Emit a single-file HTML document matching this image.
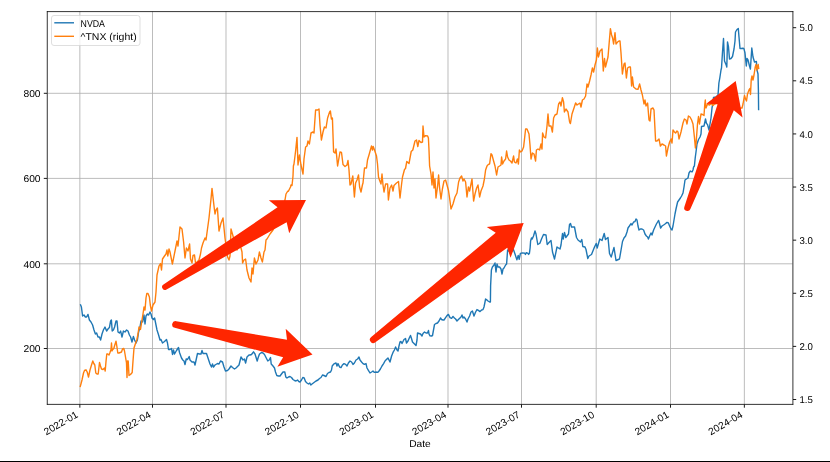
<!DOCTYPE html>
<html><head><meta charset="utf-8"><style>html,body{margin:0;padding:0;background:#fff;width:830px;height:462px;overflow:hidden}</style></head>
<body>
<svg width="830" height="462" viewBox="0 0 830 462" style="display:block">
<rect width="830" height="462" fill="#fff"/>
<path d="M79.85 11.5V404.5M152.50 11.5V404.5M226.00 11.5V404.5M300.50 11.5V404.5M375.50 11.5V404.5M448.00 11.5V404.5M521.50 11.5V404.5M596.20 11.5V404.5M670.50 11.5V404.5M744.35 11.5V404.5M47.5 93.30H792.5M47.5 178.40H792.5M47.5 263.80H792.5M47.5 348.50H792.5" stroke="#b0b0b0" stroke-width="0.85" fill="none"/>
<path d="M80.6 305.0 81.4 307.0 82.6 316.0 84.0 315.0 85.4 317.0 86.6 317.0 88.0 314.4 89.4 320.0 91.0 322.0 92.6 325.0 94.0 330.0 95.4 334.0 96.6 333.0 98.0 337.0 99.4 337.0 100.6 340.0 102.0 334.0 103.4 330.0 105.0 327.0 106.6 331.0 108.0 329.0 109.4 327.6 110.6 321.0 111.4 320.0 112.2 331.0 113.4 330.0 114.6 327.0 116.0 321.0 117.0 321.0 118.0 332.0 119.4 333.0 120.6 331.0 122.0 337.0 123.4 331.0 125.0 332.0 126.6 330.0 128.0 331.0 129.4 335.0 130.6 337.0 132.0 342.0 133.4 336.4 134.6 340.0 136.0 343.0 137.4 340.0 138.6 332.0 140.0 327.0 141.0 321.0 142.6 322.0 144.0 315.0 145.0 324.0 146.0 316.0 147.4 314.0 148.6 315.0 150.0 312.0 151.0 314.0 152.0 318.0 153.4 319.6 154.6 318.0 156.0 325.0 157.0 330.0 158.6 335.0 160.0 340.0 161.0 339.5 162.5 343.0 164.5 341.5 166.5 339.5 167.5 343.0 168.5 349.5 170.0 349.5 171.5 348.5 172.5 354.5 173.5 350.0 174.5 354.0 176.5 350.5 178.5 347.5 179.5 352.5 181.5 358.0 182.8 360.0 184.0 361.0 185.0 364.5 186.2 359.0 187.5 359.5 189.2 356.5 190.0 360.0 192.0 362.0 194.0 362.0 195.0 365.0 197.5 353.5 199.5 354.0 201.0 354.0 202.0 350.5 203.0 353.5 204.5 353.5 206.5 353.5 208.0 358.0 210.0 364.0 211.5 367.0 212.5 364.0 213.5 367.0 215.0 365.0 217.5 363.5 219.0 364.0 220.5 361.0 222.5 362.0 224.0 367.0 225.5 371.0 227.5 370.5 229.0 369.0 231.0 366.0 232.5 367.5 234.5 369.0 236.0 368.0 239.0 365.0 241.0 357.0 243.0 360.0 244.4 359.0 245.6 363.0 247.0 357.0 249.0 355.0 250.0 355.0 251.5 354.5 253.5 351.8 255.0 354.0 257.2 361.0 258.2 357.5 259.5 354.0 261.5 352.5 263.0 353.0 264.5 354.5 266.0 357.5 267.8 361.0 269.2 360.0 270.5 357.5 271.2 364.0 273.0 366.0 274.5 368.0 275.5 372.0 276.8 375.5 278.5 376.0 280.0 376.0 281.5 374.0 283.0 372.0 284.8 372.0 285.8 377.0 287.0 378.0 288.5 377.0 290.0 376.5 291.5 377.5 293.0 379.5 294.5 380.5 296.0 381.0 297.5 380.0 298.8 381.5 300.0 382.0 301.5 380.0 302.8 377.5 304.2 378.0 305.5 381.5 307.0 383.0 308.5 384.0 309.8 383.0 310.8 385.0 312.0 384.0 314.0 382.5 316.0 381.0 318.0 380.0 319.5 378.5 321.0 377.5 322.5 375.0 324.0 375.5 326.0 376.5 327.5 373.5 329.0 372.5 330.5 372.0 331.5 370.0 332.2 366.0 333.0 365.0 334.4 363.6 336.0 363.0 337.0 366.0 338.0 363.6 339.6 367.0 341.0 367.6 342.4 365.0 344.0 363.6 345.6 364.4 347.0 366.0 348.4 363.0 350.0 361.0 351.6 362.0 353.0 364.4 354.4 363.0 356.0 360.0 357.6 359.0 359.0 357.0 360.0 360.0 361.6 362.0 363.0 363.6 364.4 364.4 366.0 363.6 367.0 368.0 368.4 370.4 370.0 373.0 371.6 372.0 373.0 371.0 374.4 372.4 376.0 372.0 377.6 372.4 379.0 371.0 380.4 369.0 382.0 366.0 383.6 363.6 385.0 361.0 386.4 359.6 388.0 358.0 389.0 360.0 390.0 362.0 391.6 356.0 393.0 352.4 394.4 350.0 395.6 347.0 397.0 350.0 398.0 351.0 399.0 346.0 400.0 342.0 401.0 341.5 402.0 343.5 404.0 339.5 405.5 338.5 406.5 343.0 408.0 341.0 409.5 337.5 410.5 335.5 411.5 338.5 412.5 342.0 414.5 344.0 416.0 345.5 417.0 340.0 417.5 333.0 419.0 333.5 420.5 334.0 422.0 336.0 423.0 333.5 424.5 332.0 426.0 333.0 427.5 333.0 428.5 330.5 429.0 334.0 430.0 335.8 431.5 336.0 432.5 335.5 433.5 330.0 434.5 324.5 436.0 323.5 437.5 323.0 439.0 321.0 440.5 318.0 441.5 319.5 443.0 320.0 444.0 320.0 445.6 317.6 447.0 315.6 448.4 314.4 450.0 317.6 451.6 318.4 453.0 316.4 454.4 318.0 455.6 319.0 457.0 321.0 458.4 319.6 460.0 318.0 461.0 317.0 462.0 315.0 463.0 318.0 464.0 317.0 465.6 319.0 467.0 322.0 468.0 319.0 469.6 316.0 471.0 312.0 472.4 311.0 474.0 316.0 475.6 312.0 477.0 309.6 478.4 310.4 480.0 311.6 481.6 310.0 483.0 309.6 484.0 307.0 485.6 299.0 487.0 300.0 488.0 301.0 489.6 302.0 490.4 302.0 490.6 286.0 491.4 270.0 492.4 267.0 494.0 265.0 495.0 263.0 496.0 272.0 497.0 264.0 498.0 267.0 499.6 267.0 501.0 269.0 502.0 274.0 503.0 269.0 504.0 268.0 505.6 265.0 506.6 264.0 507.6 250.0 510.0 252.0 512.0 251.0 513.4 249.4 515.0 254.0 516.9 259.9 518.2 255.4 519.2 259.4 520.4 253.4 522.4 252.9 524.9 253.2 525.4 254.4 526.4 252.7 527.9 253.4 528.6 254.4 529.4 253.4 530.1 248.0 530.6 241.0 531.5 238.0 532.2 239.0 533.5 236.0 535.0 231.0 536.0 234.0 537.0 240.0 537.8 244.5 539.5 243.5 540.0 243.0 541.5 239.0 543.5 234.5 546.0 235.0 547.2 244.5 549.0 242.5 551.0 240.5 552.5 252.0 554.5 259.0 557.0 247.0 560.0 249.0 561.0 245.0 562.5 233.5 563.2 239.0 564.5 232.5 565.8 237.5 568.5 234.0 569.5 224.5 570.5 223.5 571.5 227.0 574.5 227.0 576.5 237.5 578.0 240.0 580.5 242.0 581.8 239.5 582.8 246.5 585.0 247.0 586.0 249.5 587.8 258.5 589.0 256.0 591.5 254.5 594.5 247.0 596.2 243.5 597.2 248.0 599.8 239.0 602.0 240.5 604.2 233.5 605.5 239.5 608.0 237.5 609.5 253.5 611.2 257.0 614.0 247.5 616.0 260.5 619.5 259.0 622.5 241.5 624.0 238.0 625.6 236.0 627.0 232.0 628.0 228.0 629.4 226.0 631.0 223.6 632.0 225.0 633.6 222.0 635.0 221.6 636.0 219.0 637.0 220.0 638.0 226.0 639.0 230.0 640.4 229.0 642.0 229.0 643.6 230.0 645.0 234.0 646.4 236.0 647.6 237.0 648.4 239.0 649.6 236.0 651.0 233.0 652.0 235.0 653.6 230.0 655.0 227.0 656.4 224.0 657.6 222.0 658.6 220.4 659.6 224.0 660.6 228.0 662.0 226.0 663.6 225.0 665.0 224.0 667.0 222.4 668.4 223.0 669.6 226.0 671.0 229.0 672.0 230.0 673.0 226.0 674.0 220.0 675.0 214.0 676.0 209.0 677.6 202.0 679.0 200.0 680.4 198.0 681.6 196.0 683.0 193.0 684.0 187.0 685.0 180.0 686.4 179.0 688.0 178.0 689.0 173.0 690.4 171.0 692.0 172.0 693.0 170.0 693.6 167.0 694.4 166.0 695.2 158.0 696.0 152.0 697.0 144.0 698.5 139.5 700.0 137.0 701.0 134.0 701.5 126.5 704.0 126.0 705.5 119.0 706.5 123.5 707.5 124.5 709.0 130.0 711.0 118.0 712.0 108.0 712.8 104.0 713.5 97.5 716.0 97.0 718.0 95.0 718.4 90.0 718.9 83.0 719.8 78.0 721.0 70.0 721.5 68.0 722.5 52.0 723.5 38.5 724.5 61.0 726.2 65.0 726.8 67.0 727.5 42.0 728.5 47.0 729.5 59.0 731.0 58.5 732.5 56.5 734.0 49.0 735.0 41.0 735.5 32.0 737.0 29.5 738.3 28.5 739.0 37.0 740.0 48.5 741.5 48.5 743.0 48.2 744.0 48.8 745.0 53.0 746.3 66.0 747.0 58.5 748.0 60.0 749.5 66.0 750.4 69.0 751.8 48.0 753.0 57.0 754.5 62.0 756.4 61.5 757.0 70.0 758.0 74.0 758.4 90.0 758.6 109.5" stroke="#1f77b4" stroke-width="1.4" fill="none" stroke-linejoin="round" stroke-linecap="square"/>
<path d="M80.3 386.5 82.0 380.0 83.5 373.0 84.5 370.5 86.0 369.8 87.2 372.0 88.5 377.0 90.0 370.0 91.5 365.0 92.8 361.0 93.8 363.5 94.8 365.0 95.8 373.0 97.0 374.0 98.2 374.0 99.5 362.5 100.5 366.0 101.5 369.0 103.0 369.5 104.5 368.0 105.2 371.0 106.0 361.5 106.8 354.0 107.8 354.0 109.0 355.0 109.8 353.0 110.5 351.0 111.0 349.5 111.5 343.0 112.0 351.0 112.8 349.5 113.8 348.5 114.8 345.0 116.0 341.2 116.8 346.0 117.8 353.0 119.0 353.0 120.2 352.5 121.5 352.0 122.5 349.0 123.8 348.5 124.5 351.0 125.5 357.0 126.5 363.0 127.0 377.5 127.5 361.0 128.2 361.0 129.0 375.5 130.5 374.5 132.2 372.5 133.0 361.0 134.0 348.0 135.0 345.0 136.0 342.0 136.8 340.0 138.0 334.0 139.0 327.0 140.5 329.5 142.0 320.0 143.0 314.0 144.0 307.0 145.0 310.0 146.0 298.0 146.8 293.5 148.0 293.5 149.4 297.0 150.3 305.0 151.5 311.0 153.0 305.0 155.0 302.0 156.0 292.0 157.0 275.0 159.0 266.0 160.5 263.5 161.5 270.0 162.5 259.0 164.5 256.0 166.0 254.0 167.0 250.0 167.8 256.0 169.0 249.0 170.0 252.0 172.4 264.0 175.0 251.0 177.0 241.0 178.0 246.0 180.0 227.0 182.0 229.0 183.6 242.0 185.0 258.0 186.4 248.0 188.0 251.0 189.6 244.0 190.5 259.0 192.0 263.0 193.0 255.5 194.5 255.0 195.5 263.0 197.0 262.0 199.0 260.0 200.5 254.0 201.5 248.0 203.0 243.0 205.0 238.0 206.0 240.0 209.0 218.0 211.0 199.0 212.0 188.4 214.0 206.0 215.0 214.0 216.0 210.0 217.4 208.0 219.0 231.0 221.0 223.0 223.0 218.0 225.0 238.0 226.4 248.0 227.6 257.0 229.0 260.0 230.0 256.0 231.0 229.0 233.0 236.0 235.0 244.0 237.0 250.0 239.0 246.0 241.0 248.0 242.0 252.0 242.6 263.0 244.0 260.0 245.6 259.0 247.0 270.0 249.0 278.0 251.0 282.0 252.0 268.0 253.0 274.0 254.4 258.0 256.0 264.0 258.0 260.0 259.4 252.0 261.0 258.0 262.4 262.0 264.0 252.0 265.0 250.0 266.0 240.0 267.0 239.0 270.0 234.0 273.0 230.0 277.0 222.0 281.0 213.0 285.0 200.0 286.0 194.0 287.5 191.5 288.5 191.0 290.5 187.0 291.0 185.0 292.0 185.5 292.5 181.0 293.0 176.0 293.4 166.0 294.0 164.0 295.6 151.0 297.0 137.4 298.0 165.0 299.4 155.0 301.0 165.0 303.0 174.0 304.0 159.0 305.6 147.0 307.0 146.0 308.0 141.0 309.4 144.0 311.0 133.0 313.0 132.0 314.0 133.0 315.6 110.0 317.6 110.0 319.0 109.0 320.0 125.0 321.4 140.0 323.0 132.0 324.4 127.0 326.0 128.0 327.6 118.0 329.6 112.0 330.4 111.0 331.4 119.0 332.4 118.0 333.6 152.0 335.0 153.0 336.0 149.0 337.6 166.0 340.0 152.0 341.5 152.5 343.0 164.5 345.0 166.5 347.0 165.0 348.0 160.5 349.0 170.0 350.0 185.0 351.0 184.0 352.8 176.0 354.4 197.0 355.6 183.0 357.0 180.0 358.5 175.0 359.6 187.0 361.0 192.0 362.4 185.0 363.0 183.0 364.5 168.0 366.5 168.0 367.5 160.0 369.0 155.0 371.5 146.0 372.5 150.0 373.2 146.5 374.5 150.0 376.5 156.0 377.5 164.0 378.5 177.0 379.5 180.0 381.0 184.0 382.0 174.0 383.0 185.0 384.0 192.0 385.6 184.0 387.6 184.0 388.4 200.0 390.0 188.0 391.6 185.0 393.0 191.0 394.0 185.5 396.5 183.0 398.5 181.5 400.0 198.0 401.6 184.0 402.5 177.0 404.5 169.5 405.5 168.5 406.8 161.5 409.0 163.5 411.2 151.5 412.8 150.0 415.0 141.0 416.5 140.0 417.8 146.5 419.0 140.5 421.0 142.5 422.5 142.0 423.0 126.0 424.0 137.0 425.6 135.6 427.6 136.0 428.4 138.0 429.0 150.0 429.6 166.0 431.0 174.0 432.0 185.0 433.0 172.0 434.0 188.0 435.0 179.0 436.0 198.0 437.6 186.0 438.6 175.0 439.6 188.0 441.0 199.0 442.4 189.0 444.0 181.0 445.6 180.0 447.0 185.0 448.4 190.0 449.6 198.0 451.0 209.0 453.0 204.0 455.0 197.0 457.0 193.0 458.6 182.0 460.0 178.0 461.6 176.0 463.0 181.0 464.0 179.0 465.6 182.0 467.0 197.0 468.4 187.0 469.6 191.0 471.0 184.0 472.0 179.0 473.6 201.0 475.0 194.0 476.6 188.0 478.0 185.0 479.6 197.0 481.0 191.0 483.0 186.0 484.4 179.0 485.6 170.0 487.0 166.0 488.4 164.4 489.6 164.0 491.0 153.6 492.0 155.0 493.6 161.0 495.0 166.0 496.6 175.0 498.0 167.0 499.6 166.0 501.0 165.0 501.6 157.0 502.6 164.0 504.0 161.0 505.6 159.0 506.6 151.0 507.6 157.0 509.0 160.0 510.4 161.0 512.0 163.0 513.6 156.0 514.4 162.0 516.0 163.0 517.4 159.0 518.4 164.0 519.4 150.0 520.6 152.0 522.0 151.0 523.6 147.0 524.4 140.0 525.6 129.0 527.0 129.0 529.0 134.0 530.0 145.0 531.0 159.0 532.4 153.0 534.0 154.0 535.6 161.0 536.4 150.0 538.0 149.0 539.6 150.0 541.0 144.0 542.0 149.0 542.6 133.0 544.0 137.0 545.6 138.0 547.0 126.0 548.0 114.0 549.0 126.0 551.0 126.0 552.4 132.0 553.6 118.0 555.0 115.0 557.0 114.0 558.6 104.0 560.0 102.0 561.0 106.0 562.4 97.6 563.6 102.0 564.4 112.0 566.0 109.0 568.0 112.0 569.6 122.0 570.4 123.6 572.0 114.0 574.0 108.0 575.6 103.0 577.0 105.0 578.4 104.0 580.0 103.0 581.0 107.0 582.4 100.0 584.0 99.0 585.6 96.0 587.0 84.0 588.0 87.0 589.6 81.0 591.0 75.0 592.4 68.0 593.6 72.0 595.0 65.0 596.4 60.0 597.4 48.0 598.4 57.0 600.0 51.0 602.0 49.0 603.3 71.0 604.5 58.5 605.5 67.0 607.0 61.0 608.0 57.0 609.0 45.0 610.4 28.6 611.6 35.0 612.6 38.0 613.6 44.0 615.0 32.6 616.0 44.0 617.6 42.0 619.0 41.0 620.0 41.0 621.0 53.0 622.4 74.0 624.0 64.0 625.0 63.0 626.4 78.0 627.6 68.0 629.0 67.0 630.4 67.0 631.6 86.0 632.4 77.0 633.6 87.0 636.0 89.0 638.0 89.4 639.6 84.0 641.0 90.0 642.4 95.0 644.0 104.0 645.0 100.0 646.0 106.0 647.6 103.0 649.0 120.0 650.0 121.0 651.0 109.0 653.0 108.0 654.0 110.0 655.6 141.0 657.0 141.0 659.0 139.0 660.4 146.0 662.0 144.0 664.0 145.0 665.6 146.0 666.4 156.0 668.0 148.0 669.6 142.0 671.0 139.0 672.0 143.0 673.0 130.0 674.4 132.0 675.6 133.0 677.0 131.0 678.0 132.0 679.0 139.0 681.0 132.0 683.0 123.0 684.4 119.0 686.0 120.0 687.0 124.0 688.4 116.0 690.0 117.0 691.6 120.0 693.0 124.0 694.4 137.0 695.4 148.0 696.0 144.0 697.5 124.0 698.5 116.5 699.5 124.0 701.0 114.0 702.5 114.5 704.0 115.5 704.8 104.0 705.3 100.0 705.6 104.5 706.0 108.0 707.5 104.0 709.5 105.0 711.5 103.5 713.0 105.5 714.5 104.0 717.0 103.0 719.0 104.0 723.0 108.0 727.0 106.0 731.0 104.0 735.0 107.0 739.0 109.0 741.0 108.0 742.0 108.0 743.0 104.0 744.5 95.5 745.5 99.0 746.5 101.0 747.5 94.0 749.0 90.0 750.0 88.5 750.5 94.5 751.2 80.0 752.0 76.0 753.0 80.0 754.0 75.0 755.2 67.1 756.0 64.5 756.8 70.0 757.6 66.0 758.2 64.5 758.7 68.5" stroke="#ff7f0e" stroke-width="1.4" fill="none" stroke-linejoin="round" stroke-linecap="square"/>
<rect x="51.5" y="15.5" width="88.5" height="30" rx="2.5" fill="#fff" fill-opacity="0.8" stroke="#d4d4d4" stroke-width="0.75"/>
<path d="M54.3 22.8H74" stroke="#1f77b4" stroke-width="1.4"/>
<path d="M54.3 36.3H74" stroke="#ff7f0e" stroke-width="1.4"/>
<g style="filter:grayscale(1)">
<text x="80.60" y="26.90" text-anchor="start" textLength="24.37" lengthAdjust="spacingAndGlyphs" style="font-family:'Liberation Sans',sans-serif;text-rendering:geometricPrecision;font-size:9.9px" fill="#000" >NVDA</text>
<text x="80.50" y="40.40" text-anchor="start" textLength="56.17" lengthAdjust="spacingAndGlyphs" style="font-family:'Liberation Sans',sans-serif;text-rendering:geometricPrecision;font-size:9.9px" fill="#000" >^TNX (right)</text>
<path d="M47.27 11.2V404.7M792.9 11.2V404.7M46.87 11.6H793.3M46.87 404.38H793.3" stroke="#000" stroke-width="0.8" fill="none"/>
<path d="M79.85 404.5v3.2M152.50 404.5v3.2M226.00 404.5v3.2M300.50 404.5v3.2M375.50 404.5v3.2M448.00 404.5v3.2M521.50 404.5v3.2M596.20 404.5v3.2M670.50 404.5v3.2M744.35 404.5v3.2M47 93.30h-3.2M47 178.40h-3.2M47 263.80h-3.2M47 348.50h-3.2M793 399.50h3.2M793 346.38h3.2M793 293.27h3.2M793 240.16h3.2M793 187.04h3.2M793 133.93h3.2M793 80.81h3.2M793 27.69h3.2" stroke="#000" stroke-width="0.9" fill="none"/>
<text x="40.60" y="352.15" text-anchor="end" textLength="17.17" lengthAdjust="spacingAndGlyphs" style="font-family:'Liberation Sans',sans-serif;text-rendering:geometricPrecision;font-size:9.9px" fill="#000" >200</text>
<text x="40.60" y="267.72" text-anchor="end" textLength="17.17" lengthAdjust="spacingAndGlyphs" style="font-family:'Liberation Sans',sans-serif;text-rendering:geometricPrecision;font-size:9.9px" fill="#000" >400</text>
<text x="40.60" y="182.08" text-anchor="end" textLength="17.17" lengthAdjust="spacingAndGlyphs" style="font-family:'Liberation Sans',sans-serif;text-rendering:geometricPrecision;font-size:9.9px" fill="#000" >600</text>
<text x="40.60" y="97.05" text-anchor="end" textLength="17.17" lengthAdjust="spacingAndGlyphs" style="font-family:'Liberation Sans',sans-serif;text-rendering:geometricPrecision;font-size:9.9px" fill="#000" >800</text>
<text x="799.40" y="403.15" text-anchor="start" textLength="13.40" lengthAdjust="spacingAndGlyphs" style="font-family:'Liberation Sans',sans-serif;text-rendering:geometricPrecision;font-size:9.9px" fill="#000" >1.5</text>
<text x="799.40" y="350.03" text-anchor="start" textLength="13.40" lengthAdjust="spacingAndGlyphs" style="font-family:'Liberation Sans',sans-serif;text-rendering:geometricPrecision;font-size:9.9px" fill="#000" >2.0</text>
<text x="799.40" y="296.92" text-anchor="start" textLength="13.40" lengthAdjust="spacingAndGlyphs" style="font-family:'Liberation Sans',sans-serif;text-rendering:geometricPrecision;font-size:9.9px" fill="#000" >2.5</text>
<text x="799.40" y="243.81" text-anchor="start" textLength="13.40" lengthAdjust="spacingAndGlyphs" style="font-family:'Liberation Sans',sans-serif;text-rendering:geometricPrecision;font-size:9.9px" fill="#000" >3.0</text>
<text x="799.40" y="190.69" text-anchor="start" textLength="13.40" lengthAdjust="spacingAndGlyphs" style="font-family:'Liberation Sans',sans-serif;text-rendering:geometricPrecision;font-size:9.9px" fill="#000" >3.5</text>
<text x="799.40" y="137.58" text-anchor="start" textLength="13.40" lengthAdjust="spacingAndGlyphs" style="font-family:'Liberation Sans',sans-serif;text-rendering:geometricPrecision;font-size:9.9px" fill="#000" >4.0</text>
<text x="799.40" y="84.46" text-anchor="start" textLength="13.40" lengthAdjust="spacingAndGlyphs" style="font-family:'Liberation Sans',sans-serif;text-rendering:geometricPrecision;font-size:9.9px" fill="#000" >4.5</text>
<text x="799.40" y="31.34" text-anchor="start" textLength="13.40" lengthAdjust="spacingAndGlyphs" style="font-family:'Liberation Sans',sans-serif;text-rendering:geometricPrecision;font-size:9.9px" fill="#000" >5.0</text>
<text x="78.80" y="416.60" text-anchor="end" textLength="37.59" lengthAdjust="spacingAndGlyphs" style="font-family:'Liberation Sans',sans-serif;text-rendering:geometricPrecision;font-size:9.9px" fill="#000" transform="rotate(-30 78.80 416.60)">2022-01</text>
<text x="151.66" y="416.60" text-anchor="end" textLength="37.59" lengthAdjust="spacingAndGlyphs" style="font-family:'Liberation Sans',sans-serif;text-rendering:geometricPrecision;font-size:9.9px" fill="#000" transform="rotate(-30 151.66 416.60)">2022-04</text>
<text x="225.32" y="416.60" text-anchor="end" textLength="37.59" lengthAdjust="spacingAndGlyphs" style="font-family:'Liberation Sans',sans-serif;text-rendering:geometricPrecision;font-size:9.9px" fill="#000" transform="rotate(-30 225.32 416.60)">2022-07</text>
<text x="299.79" y="416.60" text-anchor="end" textLength="37.59" lengthAdjust="spacingAndGlyphs" style="font-family:'Liberation Sans',sans-serif;text-rendering:geometricPrecision;font-size:9.9px" fill="#000" transform="rotate(-30 299.79 416.60)">2022-10</text>
<text x="374.27" y="416.60" text-anchor="end" textLength="37.59" lengthAdjust="spacingAndGlyphs" style="font-family:'Liberation Sans',sans-serif;text-rendering:geometricPrecision;font-size:9.9px" fill="#000" transform="rotate(-30 374.27 416.60)">2023-01</text>
<text x="447.12" y="416.60" text-anchor="end" textLength="37.59" lengthAdjust="spacingAndGlyphs" style="font-family:'Liberation Sans',sans-serif;text-rendering:geometricPrecision;font-size:9.9px" fill="#000" transform="rotate(-30 447.12 416.60)">2023-04</text>
<text x="520.79" y="416.60" text-anchor="end" textLength="37.59" lengthAdjust="spacingAndGlyphs" style="font-family:'Liberation Sans',sans-serif;text-rendering:geometricPrecision;font-size:9.9px" fill="#000" transform="rotate(-30 520.79 416.60)">2023-07</text>
<text x="595.26" y="416.60" text-anchor="end" textLength="37.59" lengthAdjust="spacingAndGlyphs" style="font-family:'Liberation Sans',sans-serif;text-rendering:geometricPrecision;font-size:9.9px" fill="#000" transform="rotate(-30 595.26 416.60)">2023-10</text>
<text x="669.74" y="416.60" text-anchor="end" textLength="37.59" lengthAdjust="spacingAndGlyphs" style="font-family:'Liberation Sans',sans-serif;text-rendering:geometricPrecision;font-size:9.9px" fill="#000" transform="rotate(-30 669.74 416.60)">2024-01</text>
<text x="743.40" y="416.60" text-anchor="end" textLength="37.59" lengthAdjust="spacingAndGlyphs" style="font-family:'Liberation Sans',sans-serif;text-rendering:geometricPrecision;font-size:9.9px" fill="#000" transform="rotate(-30 743.40 416.60)">2024-04</text>
<text x="419.90" y="447.00" text-anchor="middle" textLength="21.51" lengthAdjust="spacingAndGlyphs" style="font-family:'Liberation Sans',sans-serif;text-rendering:geometricPrecision;font-size:9.9px" fill="#000" >Date</text>
</g>
<path d="M166.52 289.47 L286.65 222.16 L289.21 233.16 L306.00 200.00 L268.84 200.14 L277.52 207.35 L163.48 284.53 A2.9 2.9 0 0 0 166.52 289.47Z" fill="#ff2600"/>
<path d="M174.77 327.82 L283.13 357.28 L277.38 366.67 L312.50 354.50 L285.68 328.77 L286.98 339.70 L176.23 321.18 A3.4 3.4 0 0 0 174.77 327.82Z" fill="#ff2600"/>
<path d="M375.38 342.29 L507.25 247.65 L510.53 257.75 L523.70 223.00 L486.76 227.09 L495.73 232.79 L371.22 336.91 A3.4 3.4 0 0 0 375.38 342.29Z" fill="#ff2600"/>
<path d="M690.39 208.94 L733.83 110.36 L742.55 117.53 L735.70 81.00 L706.29 103.72 L717.57 104.16 L684.41 206.66 A3.2 3.2 0 0 0 690.39 208.94Z" fill="#ff2600"/>
<rect x="0" y="461" width="830" height="1" fill="#000"/>
</svg>
</body></html>
